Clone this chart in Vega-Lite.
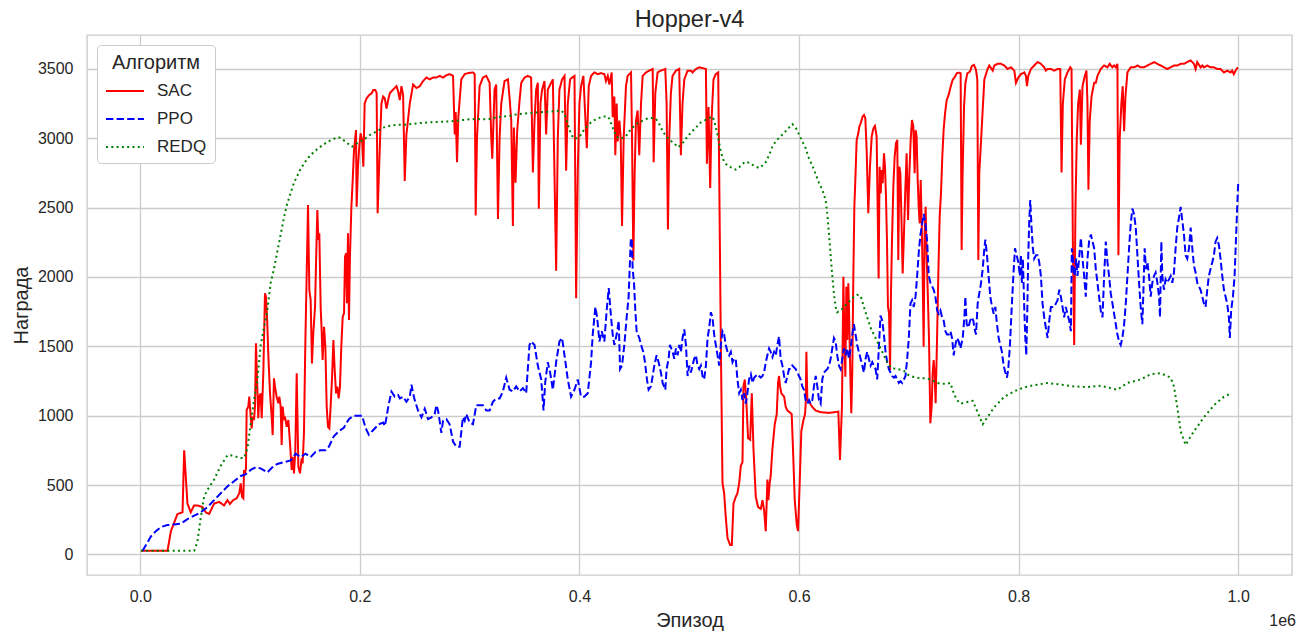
{
"$schema":"https://vega.github.io/schema/vega-lite/v6.json",
"width":1205,"height":540,
"autosize":{"type":"none"},
"padding":{"left":87,"top":35,"right":18,"bottom":64},
"background":"white",
"config":{
 "view":{"stroke":"#cccccc","strokeWidth":1.4},
 "font":"Liberation Sans",
 "axis":{"labelFont":"Liberation Sans","labelFontSize":16,"labelColor":"#262626","titleFont":"Liberation Sans","titleFontSize":20,"titleColor":"#262626","titleFontWeight":"normal","gridColor":"#cccccc","gridWidth":1.3,"domain":false,"ticks":false},
 "legend":{"orient":"top-left","offset":10,"strokeColor":"#cccccc","fillColor":"white","cornerRadius":4,"padding":8,"titleFont":"Liberation Sans","titleFontSize":20,"titleFontWeight":"normal","titleColor":"#262626","labelFont":"Liberation Sans","labelFontSize":17,"labelColor":"#262626","symbolType":"stroke","symbolSize":1444,"symbolStrokeWidth":2,"labelOffset":12,"titleAnchor":"middle","titlePadding":-2,"rowPadding":-7}
},
"title":{"text":"Hopper-v4","font":"Liberation Sans","fontSize":23.5,"fontWeight":"normal","color":"#262626","baseline":"bottom","offset":4,"dy":24},
"data":{"values":[
{"a":"SAC","x":0.6,"y":25},{"a":"SAC","x":10,"y":25},{"a":"SAC","x":20,"y":25},{"a":"SAC","x":24.8,"y":25},{"a":"SAC","x":27.9,"y":167},{"a":"SAC","x":33.9,"y":291},{"a":"SAC","x":38.5,"y":303},{"a":"SAC","x":40,"y":751},{"a":"SAC","x":43,"y":366},{"a":"SAC","x":46,"y":303},{"a":"SAC","x":49,"y":353},{"a":"SAC","x":52,"y":353},{"a":"SAC","x":56.7,"y":341},{"a":"SAC","x":59.7,"y":303},{"a":"SAC","x":62.7,"y":291},{"a":"SAC","x":67.3,"y":366},{"a":"SAC","x":71.8,"y":378},{"a":"SAC","x":76.4,"y":353},{"a":"SAC","x":79.4,"y":391},
{"a":"SAC","x":81.7,"y":363},{"a":"SAC","x":84.8,"y":392},{"a":"SAC","x":87.8,"y":404},{"a":"SAC","x":90.2,"y":440},{"a":"SAC","x":91.5,"y":512},{"a":"SAC","x":92.7,"y":416},{"a":"SAC","x":93.9,"y":404},{"a":"SAC","x":94.5,"y":608},{"a":"SAC","x":95.4,"y":584},{"a":"SAC","x":96.3,"y":620},{"a":"SAC","x":96.9,"y":1041},{"a":"SAC","x":98.4,"y":1065},{"a":"SAC","x":99.3,"y":1137},{"a":"SAC","x":100.6,"y":993},{"a":"SAC","x":101.5,"y":908},{"a":"SAC","x":102.4,"y":993},{"a":"SAC","x":103.6,"y":969},{"a":"SAC","x":104.5,"y":1065},{"a":"SAC","x":105.4,"y":1522},{"a":"SAC","x":106.6,"y":1209},{"a":"SAC","x":107.5,"y":981},{"a":"SAC","x":108.5,"y":1137},{"a":"SAC","x":109.7,"y":1161},{"a":"SAC","x":110.6,"y":981},{"a":"SAC","x":112.1,"y":1305},{"a":"SAC","x":113.6,"y":1882},{"a":"SAC","x":114.5,"y":1858},{"a":"SAC","x":115.7,"y":1666},{"a":"SAC","x":116.7,"y":1425},{"a":"SAC","x":118.2,"y":1161},{"a":"SAC","x":119.7,"y":993},{"a":"SAC","x":120.6,"y":860},{"a":"SAC","x":121.8,"y":1269},{"a":"SAC","x":122.7,"y":1209},{"a":"SAC","x":124.2,"y":1137},{"a":"SAC","x":125.8,"y":1089},{"a":"SAC","x":126.7,"y":1137},{"a":"SAC","x":127.9,"y":1065},{"a":"SAC","x":128.8,"y":788},{"a":"SAC","x":129.7,"y":1065},{"a":"SAC","x":130.9,"y":969},{"a":"SAC","x":131.8,"y":993},{"a":"SAC","x":133.4,"y":920},{"a":"SAC","x":134.9,"y":969},{"a":"SAC","x":136.4,"y":800},{"a":"SAC","x":137.9,"y":608},{"a":"SAC","x":138.8,"y":704},{"a":"SAC","x":140,"y":584},{"a":"SAC","x":141.2,"y":740},{"a":"SAC","x":142.5,"y":1305},{"a":"SAC","x":144,"y":632},{"a":"SAC","x":145.5,"y":584},{"a":"SAC","x":147,"y":692},{"a":"SAC","x":147.9,"y":656},{"a":"SAC","x":149.1,"y":873},{"a":"SAC","x":150.3,"y":1497},{"a":"SAC","x":151.6,"y":2026},{"a":"SAC","x":152.8,"y":2519},{"a":"SAC","x":154,"y":1906},{"a":"SAC","x":155.2,"y":1834},{"a":"SAC","x":156.4,"y":1377},{"a":"SAC","x":157.6,"y":1594},{"a":"SAC","x":159.2,"y":1786},{"a":"SAC","x":160.1,"y":2099},{"a":"SAC","x":161.3,"y":2483},{"a":"SAC","x":162.2,"y":2267},{"a":"SAC","x":163.1,"y":2315},{"a":"SAC","x":164.3,"y":1786},{"a":"SAC","x":165.2,"y":1618},{"a":"SAC","x":166.1,"y":1401},{"a":"SAC","x":167.4,"y":1641},{"a":"SAC","x":168.6,"y":1497},{"a":"SAC","x":169.8,"y":1065},{"a":"SAC","x":171,"y":920},{"a":"SAC","x":172.2,"y":908},{"a":"SAC","x":173.4,"y":1065},{"a":"SAC","x":174.6,"y":1257},{"a":"SAC","x":175.9,"y":1546},{"a":"SAC","x":177.1,"y":1329},{"a":"SAC","x":178.3,"y":1161},{"a":"SAC","x":179.5,"y":1209},{"a":"SAC","x":180.7,"y":1125},{"a":"SAC","x":181.9,"y":1209},{"a":"SAC","x":183.1,"y":1497},{"a":"SAC","x":184.4,"y":1714},{"a":"SAC","x":185.6,"y":1738},{"a":"SAC","x":186.5,"y":2146},{"a":"SAC","x":187.4,"y":2171},{"a":"SAC","x":188.3,"y":1810},{"a":"SAC","x":189.2,"y":2315},{"a":"SAC","x":190.1,"y":1690},{"a":"SAC","x":191,"y":2146},{"a":"SAC","x":192.3,"y":2507},{"a":"SAC","x":193.5,"y":2699},{"a":"SAC","x":194.7,"y":2916},{"a":"SAC","x":195.9,"y":3012},{"a":"SAC","x":196.5,"y":3060},{"a":"SAC","x":197.1,"y":2507},{"a":"SAC","x":198.3,"y":2795},{"a":"SAC","x":199.5,"y":2940},{"a":"SAC","x":200.7,"y":3036},{"a":"SAC","x":202,"y":2988},{"a":"SAC","x":203.2,"y":2795},{"a":"SAC","x":204.4,"y":3252},{"a":"SAC","x":206.2,"y":3289},{"a":"SAC","x":208.6,"y":3313},{"a":"SAC","x":210.8,"y":3325},{"a":"SAC","x":212.3,"y":3349},{"a":"SAC","x":214.1,"y":3349},{"a":"SAC","x":215.3,"y":3325},{"a":"SAC","x":216.2,"y":2459},{"a":"SAC","x":217.4,"y":2748},{"a":"SAC","x":218.4,"y":2988},
{"a":"SAC","x":219.7,"y":3251},{"a":"SAC","x":221.2,"y":3301},{"a":"SAC","x":222.7,"y":3289},{"a":"SAC","x":224.3,"y":3214},{"a":"SAC","x":225.8,"y":3276},{"a":"SAC","x":227.3,"y":3326},{"a":"SAC","x":230.3,"y":3351},{"a":"SAC","x":233.4,"y":3376},{"a":"SAC","x":234.9,"y":3338},{"a":"SAC","x":236.4,"y":3276},{"a":"SAC","x":237.9,"y":3376},{"a":"SAC","x":239.4,"y":3313},{"a":"SAC","x":240.9,"y":2692},{"a":"SAC","x":242.4,"y":3027},{"a":"SAC","x":245.5,"y":3251},{"a":"SAC","x":248.5,"y":3388},{"a":"SAC","x":251.5,"y":3363},{"a":"SAC","x":254.6,"y":3376},{"a":"SAC","x":257.6,"y":3413},{"a":"SAC","x":260.6,"y":3438},{"a":"SAC","x":263.7,"y":3425},{"a":"SAC","x":266.7,"y":3438},{"a":"SAC","x":269.7,"y":3438},{"a":"SAC","x":272.7,"y":3450},{"a":"SAC","x":275.8,"y":3438},{"a":"SAC","x":278.8,"y":3455},{"a":"SAC","x":281.8,"y":3463},{"a":"SAC","x":284.9,"y":3450},{"a":"SAC","x":286.4,"y":3027},{"a":"SAC","x":287.3,"y":3189},{"a":"SAC","x":288.5,"y":2828},{"a":"SAC","x":289.7,"y":3152},{"a":"SAC","x":292.4,"y":3425},{"a":"SAC","x":295.5,"y":3463},{"a":"SAC","x":298.5,"y":3470},{"a":"SAC","x":303,"y":3475},{"a":"SAC","x":304.6,"y":3463},{"a":"SAC","x":305.5,"y":2443},{"a":"SAC","x":306.7,"y":3003},{"a":"SAC","x":309.1,"y":3376},{"a":"SAC","x":312.1,"y":3438},{"a":"SAC","x":315.2,"y":3450},{"a":"SAC","x":318.2,"y":3400},{"a":"SAC","x":319.7,"y":3003},{"a":"SAC","x":320.6,"y":2853},{"a":"SAC","x":322.7,"y":3351},{"a":"SAC","x":324.2,"y":3388},{"a":"SAC","x":325.8,"y":2418},{"a":"SAC","x":327.3,"y":3003},{"a":"SAC","x":328.8,"y":3251},{"a":"SAC","x":331.8,"y":3413},{"a":"SAC","x":334.9,"y":3425},{"a":"SAC","x":336.4,"y":3289},{"a":"SAC","x":337.9,"y":3127},{"a":"SAC","x":339.4,"y":2368},{"a":"SAC","x":340.3,"y":3077},{"a":"SAC","x":341.8,"y":2679},{"a":"SAC","x":343.3,"y":3052},{"a":"SAC","x":345.5,"y":3276},{"a":"SAC","x":347,"y":3400},{"a":"SAC","x":350,"y":3438},{"a":"SAC","x":353,"y":3450},{"a":"SAC","x":356,"y":3438},{"a":"SAC","x":357.6,"y":2754},{"a":"SAC","x":359.1,"y":3127},{"a":"SAC","x":360.6,"y":3351},{"a":"SAC","x":362.1,"y":3400},{"a":"SAC","x":363,"y":2493},{"a":"SAC","x":364.5,"y":3251},{"a":"SAC","x":366,"y":3351},{"a":"SAC","x":368.2,"y":3413},{"a":"SAC","x":369.7,"y":3027},{"a":"SAC","x":371.2,"y":3351},{"a":"SAC","x":374.2,"y":3400},{"a":"SAC","x":375.8,"y":3425},{"a":"SAC","x":376.7,"y":3003},{"a":"SAC","x":378.8,"y":2045},{"a":"SAC","x":380.3,"y":3003},{"a":"SAC","x":381.8,"y":3351},{"a":"SAC","x":384.2,"y":3425},{"a":"SAC","x":386.4,"y":3450},{"a":"SAC","x":387.9,"y":2766},{"a":"SAC","x":389.4,"y":3251},{"a":"SAC","x":391.5,"y":3425},{"a":"SAC","x":393.3,"y":3438},{"a":"SAC","x":395.5,"y":3450},{"a":"SAC","x":397,"y":1846},{"a":"SAC","x":398.5,"y":2766},{"a":"SAC","x":400,"y":3251},{"a":"SAC","x":401.5,"y":3376},{"a":"SAC","x":403.6,"y":3450},{"a":"SAC","x":405.5,"y":3127},{"a":"SAC","x":406.7,"y":2928},{"a":"SAC","x":408.5,"y":3376},{"a":"SAC","x":410.6,"y":3450},{"a":"SAC","x":413.6,"y":3475},{"a":"SAC","x":416.7,"y":3463},{"a":"SAC","x":419.7,"y":3470},{"a":"SAC","x":422.7,"y":3463},{"a":"SAC","x":424.2,"y":3413},{"a":"SAC","x":425.8,"y":3450},{"a":"SAC","x":427.3,"y":3388},{"a":"SAC","x":429.4,"y":3475},{"a":"SAC","x":430.3,"y":3152},{"a":"SAC","x":431.8,"y":3301},{"a":"SAC","x":432.7,"y":2878},{"a":"SAC","x":433.9,"y":3251},{"a":"SAC","x":434.8,"y":2978},{"a":"SAC","x":436.4,"y":3127},{"a":"SAC","x":437.6,"y":3003},{"a":"SAC","x":438.8,"y":2368},{"a":"SAC","x":440.3,"y":3003},{"a":"SAC","x":442.4,"y":3376},{"a":"SAC","x":443.9,"y":3450},{"a":"SAC","x":445.5,"y":3463},{"a":"SAC","x":447,"y":3475},{"a":"SAC","x":447.9,"y":3003},{"a":"SAC","x":449.1,"y":2119},{"a":"SAC","x":450.3,"y":2754},{"a":"SAC","x":451.5,"y":3127},{"a":"SAC","x":453,"y":3201},{"a":"SAC","x":454.5,"y":2878},{"a":"SAC","x":456.1,"y":3251},{"a":"SAC","x":457.6,"y":3450},{"a":"SAC","x":460.6,"y":3475},{"a":"SAC","x":463.6,"y":3488},{"a":"SAC","x":466.7,"y":3500},{"a":"SAC","x":467.6,"y":2828},{"a":"SAC","x":469.1,"y":3326},{"a":"SAC","x":471.2,"y":3475},{"a":"SAC","x":474.2,"y":3488},{"a":"SAC","x":478.2,"y":3500},{"a":"SAC","x":479.4,"y":3251},{"a":"SAC","x":480.6,"y":2343},{"a":"SAC","x":481.8,"y":3003},{"a":"SAC","x":483.3,"y":3326},{"a":"SAC","x":484.8,"y":3450},{"a":"SAC","x":487.9,"y":3488},
{"a":"SAC","x":490.9,"y":3500},{"a":"SAC","x":492.4,"y":2878},{"a":"SAC","x":493.9,"y":3251},{"a":"SAC","x":495.5,"y":3425},{"a":"SAC","x":498.5,"y":3488},{"a":"SAC","x":501.5,"y":3488},{"a":"SAC","x":503,"y":3475},{"a":"SAC","x":506.1,"y":3500},{"a":"SAC","x":509.1,"y":3512},{"a":"SAC","x":512.1,"y":3507},{"a":"SAC","x":515.2,"y":3500},{"a":"SAC","x":516.1,"y":2816},{"a":"SAC","x":517.6,"y":3226},{"a":"SAC","x":519.1,"y":2642},{"a":"SAC","x":520.3,"y":3127},{"a":"SAC","x":522.1,"y":3425},{"a":"SAC","x":524.2,"y":3463},{"a":"SAC","x":526.4,"y":3475},{"a":"SAC","x":527.3,"y":2754},{"a":"SAC","x":528.8,"y":1510},{"a":"SAC","x":530.3,"y":515},{"a":"SAC","x":531.8,"y":440},{"a":"SAC","x":533.3,"y":266},{"a":"SAC","x":534.9,"y":117},{"a":"SAC","x":537.3,"y":67},{"a":"SAC","x":538.8,"y":67},{"a":"SAC","x":540.3,"y":366},{"a":"SAC","x":542.4,"y":415},{"a":"SAC","x":543.9,"y":440},{"a":"SAC","x":545.5,"y":515},{"a":"SAC","x":547,"y":639},{"a":"SAC","x":548.5,"y":664},{"a":"SAC","x":549.4,"y":1211},{"a":"SAC","x":550.6,"y":1261},{"a":"SAC","x":551.8,"y":1137},{"a":"SAC","x":553.6,"y":838},{"a":"SAC","x":555.5,"y":826},{"a":"SAC","x":557,"y":1162},{"a":"SAC","x":558.5,"y":764},{"a":"SAC","x":560.6,"y":415},{"a":"SAC","x":562.7,"y":341},{"a":"SAC","x":565.2,"y":328},{"a":"SAC","x":566.7,"y":391},{"a":"SAC","x":568.2,"y":316},{"a":"SAC","x":569.7,"y":167},{"a":"SAC","x":571.2,"y":540},{"a":"SAC","x":572.1,"y":391},{"a":"SAC","x":573.3,"y":515},{"a":"SAC","x":574.2,"y":565},{"a":"SAC","x":575.8,"y":764},{"a":"SAC","x":577.9,"y":938},{"a":"SAC","x":579.7,"y":1012},{"a":"SAC","x":580.9,"y":1236},{"a":"SAC","x":581.8,"y":1286},{"a":"SAC","x":582.7,"y":1211},{"a":"SAC","x":583.9,"y":1162},{"a":"SAC","x":586.4,"y":1137},{"a":"SAC","x":587.9,"y":1062},{"a":"SAC","x":589.4,"y":1037},{"a":"SAC","x":591.5,"y":1025},{"a":"SAC","x":593.3,"y":1012},{"a":"SAC","x":594.5,"y":764},{"a":"SAC","x":596.1,"y":391},{"a":"SAC","x":597.9,"y":216},{"a":"SAC","x":599.1,"y":167},{"a":"SAC","x":600.6,"y":515},{"a":"SAC","x":602.1,"y":888},{"a":"SAC","x":603.9,"y":963},{"a":"SAC","x":605.5,"y":1012},{"a":"SAC","x":606.1,"y":1087},{"a":"SAC","x":606.7,"y":1460},{"a":"SAC","x":607.6,"y":1112},{"a":"SAC","x":609.1,"y":1100},{"a":"SAC","x":612.1,"y":1062},{"a":"SAC","x":615.2,"y":1037},{"a":"SAC","x":619.7,"y":1025},{"a":"SAC","x":627.3,"y":1020},{"a":"SAC","x":635.8,"y":1029},{"a":"SAC","x":636.7,"y":824},{"a":"SAC","x":637.3,"y":680},{"a":"SAC","x":638.2,"y":873},{"a":"SAC","x":639.1,"y":1065},{"a":"SAC","x":640.4,"y":2002},{"a":"SAC","x":641.3,"y":1546},{"a":"SAC","x":642.2,"y":1281},{"a":"SAC","x":643.1,"y":1930},{"a":"SAC","x":644,"y":1546},{"a":"SAC","x":644.9,"y":1954},{"a":"SAC","x":645.8,"y":1666},{"a":"SAC","x":646.7,"y":1305},{"a":"SAC","x":647.6,"y":1017},{"a":"SAC","x":648.5,"y":1305},{"a":"SAC","x":649.5,"y":2026},{"a":"SAC","x":650.4,"y":2507},{"a":"SAC","x":651.3,"y":2699},{"a":"SAC","x":652.5,"y":2988},{"a":"SAC","x":654,"y":3036},{"a":"SAC","x":654.9,"y":3084},{"a":"SAC","x":656.1,"y":3108},{"a":"SAC","x":657.9,"y":3156},{"a":"SAC","x":659.2,"y":3168},{"a":"SAC","x":660.4,"y":3144},{"a":"SAC","x":661.6,"y":2916},{"a":"SAC","x":663.1,"y":2459},{"a":"SAC","x":664.6,"y":2795},{"a":"SAC","x":666.2,"y":3012},{"a":"SAC","x":667.7,"y":3072},{"a":"SAC","x":669.2,"y":3089},{"a":"SAC","x":670.7,"y":3012},{"a":"SAC","x":671.6,"y":2507},{"a":"SAC","x":672.5,"y":1990},{"a":"SAC","x":673.4,"y":2795},{"a":"SAC","x":674.4,"y":2603},{"a":"SAC","x":675.3,"y":2772},{"a":"SAC","x":676.2,"y":2676},{"a":"SAC","x":677.4,"y":2892},{"a":"SAC","x":678.3,"y":2795},{"a":"SAC","x":679.2,"y":2579},{"a":"SAC","x":680.1,"y":2267},{"a":"SAC","x":681,"y":1786},{"a":"SAC","x":682,"y":1738},{"a":"SAC","x":682.9,"y":1329},{"a":"SAC","x":683.8,"y":1906},{"a":"SAC","x":684.7,"y":2267},{"a":"SAC","x":685.9,"y":2651},{"a":"SAC","x":687.1,"y":2867},{"a":"SAC","x":688.3,"y":2964},{"a":"SAC","x":689.5,"y":2988},{"a":"SAC","x":690.4,"y":2122},{"a":"SAC","x":691.4,"y":2795},{"a":"SAC","x":692.3,"y":2748},{"a":"SAC","x":693.2,"y":2459},{"a":"SAC","x":694.4,"y":2026},{"a":"SAC","x":695.6,"y":2315},{"a":"SAC","x":696.8,"y":2627},{"a":"SAC","x":698,"y":2892},{"a":"SAC","x":699.3,"y":2411},{"a":"SAC","x":700.5,"y":2748},{"a":"SAC","x":701.7,"y":2988},{"a":"SAC","x":702.9,"y":3132},{"a":"SAC","x":704.1,"y":3084},{"a":"SAC","x":705.3,"y":2748},{"a":"SAC","x":706.2,"y":3060},{"a":"SAC","x":707.1,"y":3012},{"a":"SAC","x":708.1,"y":2699},{"a":"SAC","x":709,"y":2507},{"a":"SAC","x":709.9,"y":2387},{"a":"SAC","x":710.8,"y":2699},{"a":"SAC","x":711.7,"y":2411},{"a":"SAC","x":712.6,"y":2026},{"a":"SAC","x":713.5,"y":1497},{"a":"SAC","x":714.4,"y":2315},{"a":"SAC","x":715.3,"y":2507},{"a":"SAC","x":716.3,"y":2146},{"a":"SAC","x":717.2,"y":1906},{"a":"SAC","x":718.4,"y":1546},{"a":"SAC","x":719.6,"y":945},{"a":"SAC","x":720.8,"y":1065},{"a":"SAC","x":721.7,"y":1305},{"a":"SAC","x":722.6,"y":1401},{"a":"SAC","x":723.5,"y":1305},{"a":"SAC","x":724.4,"y":1089},{"a":"SAC","x":725.7,"y":1546},{"a":"SAC","x":726.9,"y":2026},{"a":"SAC","x":728.1,"y":2435},{"a":"SAC","x":729.3,"y":2603},{"a":"SAC","x":730.5,"y":2867},{"a":"SAC","x":731.7,"y":3060},{"a":"SAC","x":733,"y":3180},{"a":"SAC","x":734.5,"y":3276},{"a":"SAC","x":736.3,"y":3313},{"a":"SAC","x":738.1,"y":3372},{"a":"SAC","x":739.9,"y":3421},{"a":"SAC","x":742.1,"y":3445},{"a":"SAC","x":743.6,"y":3469},{"a":"SAC","x":746,"y":3473},{"a":"SAC","x":747.2,"y":3469},{"a":"SAC","x":748.1,"y":2195},{"a":"SAC","x":749,"y":2748},{"a":"SAC","x":750.3,"y":3228},{"a":"SAC","x":751.5,"y":3397},{"a":"SAC","x":753.3,"y":3469},{"a":"SAC","x":755.7,"y":3481},{"a":"SAC","x":757.5,"y":3522},{"a":"SAC","x":759.4,"y":3529},{"a":"SAC","x":761.2,"y":3493},{"a":"SAC","x":762.4,"y":3421},{"a":"SAC","x":763.3,"y":2122},{"a":"SAC","x":764.2,"y":2748},
{"a":"SAC","x":767.6,"y":3251},{"a":"SAC","x":768.8,"y":3425},{"a":"SAC","x":771.8,"y":3500},{"a":"SAC","x":773.3,"y":3525},{"a":"SAC","x":776.4,"y":3488},{"a":"SAC","x":777.9,"y":3525},{"a":"SAC","x":780.9,"y":3537},{"a":"SAC","x":783.9,"y":3537},{"a":"SAC","x":787,"y":3525},{"a":"SAC","x":790,"y":3500},{"a":"SAC","x":793,"y":3512},{"a":"SAC","x":796.1,"y":3488},{"a":"SAC","x":797.6,"y":3400},{"a":"SAC","x":799.7,"y":3438},{"a":"SAC","x":802.1,"y":3463},{"a":"SAC","x":805.2,"y":3475},{"a":"SAC","x":806.7,"y":3450},{"a":"SAC","x":807.6,"y":3376},{"a":"SAC","x":808.8,"y":3450},{"a":"SAC","x":811.2,"y":3500},{"a":"SAC","x":814.2,"y":3525},{"a":"SAC","x":817.3,"y":3550},{"a":"SAC","x":820.3,"y":3537},{"a":"SAC","x":823.3,"y":3512},{"a":"SAC","x":824.8,"y":3488},{"a":"SAC","x":826.4,"y":3500},{"a":"SAC","x":829.4,"y":3500},{"a":"SAC","x":832.4,"y":3488},{"a":"SAC","x":835.5,"y":3500},{"a":"SAC","x":837.9,"y":3500},{"a":"SAC","x":839.1,"y":2754},{"a":"SAC","x":840.3,"y":3251},{"a":"SAC","x":842.1,"y":3425},{"a":"SAC","x":844.5,"y":3475},{"a":"SAC","x":847,"y":3512},{"a":"SAC","x":848.2,"y":3500},{"a":"SAC","x":849.4,"y":2256},{"a":"SAC","x":850.6,"y":1510},{"a":"SAC","x":851.8,"y":2505},{"a":"SAC","x":853,"y":3003},{"a":"SAC","x":854.2,"y":3251},{"a":"SAC","x":855.8,"y":3351},{"a":"SAC","x":856.7,"y":2953},{"a":"SAC","x":858.2,"y":3376},{"a":"SAC","x":860.3,"y":3450},{"a":"SAC","x":861.8,"y":3488},{"a":"SAC","x":862.7,"y":3251},{"a":"SAC","x":863.6,"y":2629},{"a":"SAC","x":864.8,"y":3127},{"a":"SAC","x":866.4,"y":3301},{"a":"SAC","x":867.6,"y":3351},{"a":"SAC","x":868.8,"y":3400},{"a":"SAC","x":870.3,"y":3400},{"a":"SAC","x":871.8,"y":3450},{"a":"SAC","x":874.8,"y":3500},{"a":"SAC","x":877.9,"y":3525},{"a":"SAC","x":880.9,"y":3512},{"a":"SAC","x":883,"y":3537},{"a":"SAC","x":885.4,"y":3512},{"a":"SAC","x":887,"y":3525},{"a":"SAC","x":888.5,"y":3512},{"a":"SAC","x":890,"y":3537},{"a":"SAC","x":890.9,"y":2157},{"a":"SAC","x":892.1,"y":3003},{"a":"SAC","x":893.6,"y":3251},{"a":"SAC","x":894.8,"y":3376},{"a":"SAC","x":896.1,"y":3052},{"a":"SAC","x":897.3,"y":3301},{"a":"SAC","x":899.1,"y":3475},{"a":"SAC","x":902.1,"y":3512},{"a":"SAC","x":905.1,"y":3512},{"a":"SAC","x":908.2,"y":3525},{"a":"SAC","x":911.2,"y":3512},{"a":"SAC","x":914.2,"y":3512},{"a":"SAC","x":917.3,"y":3525},{"a":"SAC","x":920.3,"y":3537},{"a":"SAC","x":923.3,"y":3550},{"a":"SAC","x":926.4,"y":3537},{"a":"SAC","x":929.4,"y":3525},{"a":"SAC","x":932.4,"y":3512},{"a":"SAC","x":935.4,"y":3500},{"a":"SAC","x":938.5,"y":3512},{"a":"SAC","x":941.5,"y":3525},{"a":"SAC","x":944.5,"y":3525},{"a":"SAC","x":947.6,"y":3537},{"a":"SAC","x":950.6,"y":3537},{"a":"SAC","x":953.6,"y":3550},{"a":"SAC","x":956.7,"y":3562},{"a":"SAC","x":959.7,"y":3537},{"a":"SAC","x":961.2,"y":3500},{"a":"SAC","x":962.7,"y":3550},{"a":"SAC","x":965.7,"y":3512},{"a":"SAC","x":967.3,"y":3525},{"a":"SAC","x":968.8,"y":3512},{"a":"SAC","x":971.8,"y":3525},{"a":"SAC","x":974.8,"y":3512},{"a":"SAC","x":977.9,"y":3512},{"a":"SAC","x":980.9,"y":3500},{"a":"SAC","x":983.9,"y":3500},{"a":"SAC","x":987,"y":3475},{"a":"SAC","x":990,"y":3488},{"a":"SAC","x":993,"y":3475},{"a":"SAC","x":994.5,"y":3488},{"a":"SAC","x":996,"y":3463},{"a":"SAC","x":997.6,"y":3488},{"a":"SAC","x":999.7,"y":3512},
{"a":"PPO","x":2.1,"y":25},{"a":"PPO","x":5.2,"y":67},{"a":"PPO","x":9.7,"y":129},{"a":"PPO","x":14.2,"y":167},{"a":"PPO","x":18.8,"y":197},{"a":"PPO","x":24.8,"y":211},{"a":"PPO","x":30.9,"y":216},{"a":"PPO","x":37,"y":221},{"a":"PPO","x":43,"y":254},{"a":"PPO","x":49.1,"y":279},{"a":"PPO","x":55.1,"y":303},{"a":"PPO","x":61.2,"y":341},{"a":"PPO","x":67.3,"y":391},{"a":"PPO","x":73.3,"y":440},{"a":"PPO","x":79.4,"y":490},{"a":"PPO","x":85.4,"y":527},{"a":"PPO","x":91.5,"y":565},{"a":"PPO","x":96,"y":577},{"a":"PPO","x":100.6,"y":609},{"a":"PPO","x":105.1,"y":627},{"a":"PPO","x":109.7,"y":620},{"a":"PPO","x":115.7,"y":590},{"a":"PPO","x":120.3,"y":627},{"a":"PPO","x":124.8,"y":652},{"a":"PPO","x":130.9,"y":664},{"a":"PPO","x":137,"y":677},{"a":"PPO","x":141.5,"y":726},{"a":"PPO","x":146,"y":701},{"a":"PPO","x":150.6,"y":726},{"a":"PPO","x":155.1,"y":701},{"a":"PPO","x":159.7,"y":739},{"a":"PPO","x":164.2,"y":751},{"a":"PPO","x":168.8,"y":751},{"a":"PPO","x":171.8,"y":776},{"a":"PPO","x":176.3,"y":851},{"a":"PPO","x":180.9,"y":888},{"a":"PPO","x":185.4,"y":913},{"a":"PPO","x":190,"y":975},{"a":"PPO","x":194.5,"y":1000},{"a":"PPO","x":199.1,"y":1000},{"a":"PPO","x":202.1,"y":1000},{"a":"PPO","x":205.1,"y":913},{"a":"PPO","x":208.2,"y":863},{"a":"PPO","x":211.2,"y":888},{"a":"PPO","x":214.2,"y":913},{"a":"PPO","x":217.3,"y":938},
{"a":"PPO","x":221.2,"y":950},{"a":"PPO","x":222.7,"y":925},{"a":"PPO","x":224.3,"y":988},{"a":"PPO","x":225.8,"y":1062},{"a":"PPO","x":228.8,"y":1174},{"a":"PPO","x":231.8,"y":1137},{"a":"PPO","x":234.9,"y":1149},{"a":"PPO","x":236.4,"y":1124},{"a":"PPO","x":239.4,"y":1137},{"a":"PPO","x":242.4,"y":1100},{"a":"PPO","x":245.5,"y":1137},{"a":"PPO","x":247,"y":1224},{"a":"PPO","x":248.5,"y":1162},{"a":"PPO","x":250,"y":1112},{"a":"PPO","x":253,"y":1037},{"a":"PPO","x":256.1,"y":988},{"a":"PPO","x":259.1,"y":1050},{"a":"PPO","x":262.1,"y":975},{"a":"PPO","x":265.2,"y":988},{"a":"PPO","x":268.2,"y":1012},{"a":"PPO","x":269.7,"y":1075},{"a":"PPO","x":271.2,"y":1037},{"a":"PPO","x":272.7,"y":963},{"a":"PPO","x":274.2,"y":876},{"a":"PPO","x":275.8,"y":963},{"a":"PPO","x":278.8,"y":975},{"a":"PPO","x":281.8,"y":938},{"a":"PPO","x":284.9,"y":813},{"a":"PPO","x":287.9,"y":776},{"a":"PPO","x":290.9,"y":776},{"a":"PPO","x":293.9,"y":988},{"a":"PPO","x":295.5,"y":963},{"a":"PPO","x":297,"y":1012},{"a":"PPO","x":300,"y":950},{"a":"PPO","x":303,"y":938},{"a":"PPO","x":306.1,"y":1075},{"a":"PPO","x":309.1,"y":1075},{"a":"PPO","x":312.1,"y":1075},{"a":"PPO","x":315.2,"y":1037},{"a":"PPO","x":318.2,"y":1037},{"a":"PPO","x":321.2,"y":1100},{"a":"PPO","x":324.2,"y":1124},{"a":"PPO","x":327.3,"y":1124},{"a":"PPO","x":330.3,"y":1174},{"a":"PPO","x":333.3,"y":1274},{"a":"PPO","x":336.4,"y":1187},{"a":"PPO","x":339.4,"y":1174},{"a":"PPO","x":342.4,"y":1211},{"a":"PPO","x":345.5,"y":1174},{"a":"PPO","x":348.5,"y":1199},{"a":"PPO","x":351.5,"y":1162},{"a":"PPO","x":354.5,"y":1510},{"a":"PPO","x":356.1,"y":1535},{"a":"PPO","x":357.6,"y":1522},{"a":"PPO","x":359.1,"y":1510},{"a":"PPO","x":362.1,"y":1361},{"a":"PPO","x":365.2,"y":1261},{"a":"PPO","x":367.3,"y":1037},{"a":"PPO","x":368.8,"y":1236},{"a":"PPO","x":371.2,"y":1386},{"a":"PPO","x":373.3,"y":1311},{"a":"PPO","x":375.8,"y":1187},{"a":"PPO","x":378.8,"y":1386},{"a":"PPO","x":381.8,"y":1535},{"a":"PPO","x":384.2,"y":1560},{"a":"PPO","x":386.4,"y":1435},{"a":"PPO","x":389.4,"y":1261},{"a":"PPO","x":392.4,"y":1137},{"a":"PPO","x":395.5,"y":1187},{"a":"PPO","x":398.5,"y":1261},{"a":"PPO","x":401.5,"y":1137},{"a":"PPO","x":404.5,"y":1137},{"a":"PPO","x":407.6,"y":1162},{"a":"PPO","x":410.6,"y":1386},{"a":"PPO","x":412.1,"y":1585},{"a":"PPO","x":414.5,"y":1784},{"a":"PPO","x":416.1,"y":1709},{"a":"PPO","x":418.2,"y":1535},{"a":"PPO","x":420.3,"y":1609},{"a":"PPO","x":422.7,"y":1535},{"a":"PPO","x":424.8,"y":1759},{"a":"PPO","x":426.7,"y":1920},{"a":"PPO","x":428.8,"y":1709},{"a":"PPO","x":430.3,"y":1585},{"a":"PPO","x":431.8,"y":1510},{"a":"PPO","x":433.9,"y":1585},{"a":"PPO","x":435.8,"y":1684},{"a":"PPO","x":437,"y":1336},{"a":"PPO","x":438.8,"y":1361},{"a":"PPO","x":440.9,"y":1510},{"a":"PPO","x":443,"y":1709},{"a":"PPO","x":444.8,"y":1858},{"a":"PPO","x":446.7,"y":2256},{"a":"PPO","x":447.6,"y":2281},{"a":"PPO","x":448.5,"y":2057},{"a":"PPO","x":449.7,"y":1958},{"a":"PPO","x":450.9,"y":1759},{"a":"PPO","x":452.1,"y":1609},{"a":"PPO","x":454.5,"y":1560},{"a":"PPO","x":456.1,"y":1510},{"a":"PPO","x":458.2,"y":1460},{"a":"PPO","x":459.7,"y":1386},{"a":"PPO","x":461.5,"y":1261},{"a":"PPO","x":463,"y":1187},{"a":"PPO","x":465.1,"y":1211},{"a":"PPO","x":466.7,"y":1286},{"a":"PPO","x":468.2,"y":1361},{"a":"PPO","x":470.3,"y":1435},{"a":"PPO","x":472.1,"y":1386},{"a":"PPO","x":474.2,"y":1311},{"a":"PPO","x":475.8,"y":1236},{"a":"PPO","x":478.2,"y":1187},{"a":"PPO","x":479.4,"y":1336},{"a":"PPO","x":481.2,"y":1410},{"a":"PPO","x":482.4,"y":1510},
{"a":"PPO","x":484.9,"y":1460},{"a":"PPO","x":486.4,"y":1410},{"a":"PPO","x":487.9,"y":1485},{"a":"PPO","x":489.4,"y":1435},{"a":"PPO","x":490.9,"y":1510},{"a":"PPO","x":492.4,"y":1460},{"a":"PPO","x":493.9,"y":1560},{"a":"PPO","x":495.5,"y":1622},{"a":"PPO","x":497,"y":1510},{"a":"PPO","x":498.5,"y":1286},{"a":"PPO","x":500,"y":1361},{"a":"PPO","x":501.5,"y":1311},{"a":"PPO","x":503,"y":1361},{"a":"PPO","x":504.5,"y":1410},{"a":"PPO","x":506.1,"y":1435},{"a":"PPO","x":507.6,"y":1361},{"a":"PPO","x":509.1,"y":1336},{"a":"PPO","x":510.6,"y":1361},{"a":"PPO","x":512.1,"y":1286},{"a":"PPO","x":513.6,"y":1261},{"a":"PPO","x":515.2,"y":1361},{"a":"PPO","x":516.7,"y":1560},{"a":"PPO","x":518.2,"y":1634},{"a":"PPO","x":519.7,"y":1746},{"a":"PPO","x":521.2,"y":1709},{"a":"PPO","x":522.7,"y":1585},{"a":"PPO","x":524.2,"y":1510},{"a":"PPO","x":525.8,"y":1435},{"a":"PPO","x":527.3,"y":1361},{"a":"PPO","x":528.8,"y":1510},{"a":"PPO","x":530.3,"y":1609},{"a":"PPO","x":531.8,"y":1585},{"a":"PPO","x":533.3,"y":1510},{"a":"PPO","x":534.9,"y":1460},{"a":"PPO","x":536.4,"y":1435},{"a":"PPO","x":537.9,"y":1460},{"a":"PPO","x":539.4,"y":1386},{"a":"PPO","x":540.9,"y":1410},{"a":"PPO","x":542.4,"y":1410},{"a":"PPO","x":543.9,"y":1261},{"a":"PPO","x":545.5,"y":1162},{"a":"PPO","x":547,"y":1187},{"a":"PPO","x":548.5,"y":1112},{"a":"PPO","x":550,"y":1162},{"a":"PPO","x":551.5,"y":1087},{"a":"PPO","x":553,"y":1162},{"a":"PPO","x":554.5,"y":1261},{"a":"PPO","x":556.1,"y":1299},{"a":"PPO","x":557.6,"y":1236},{"a":"PPO","x":559.1,"y":1274},{"a":"PPO","x":560.6,"y":1286},{"a":"PPO","x":562.1,"y":1299},{"a":"PPO","x":563.6,"y":1286},{"a":"PPO","x":565.2,"y":1274},{"a":"PPO","x":566.7,"y":1286},{"a":"PPO","x":568.2,"y":1311},{"a":"PPO","x":569.7,"y":1386},{"a":"PPO","x":571.2,"y":1435},{"a":"PPO","x":572.7,"y":1485},{"a":"PPO","x":574.2,"y":1460},{"a":"PPO","x":575.8,"y":1423},{"a":"PPO","x":577.3,"y":1460},{"a":"PPO","x":578.8,"y":1435},{"a":"PPO","x":580.3,"y":1510},{"a":"PPO","x":581.8,"y":1572},{"a":"PPO","x":583.3,"y":1410},{"a":"PPO","x":584.9,"y":1361},{"a":"PPO","x":586.4,"y":1286},{"a":"PPO","x":587.9,"y":1236},{"a":"PPO","x":589.4,"y":1286},{"a":"PPO","x":590.9,"y":1336},{"a":"PPO","x":592.4,"y":1336},{"a":"PPO","x":593.9,"y":1361},{"a":"PPO","x":595.5,"y":1348},{"a":"PPO","x":597,"y":1336},{"a":"PPO","x":598.5,"y":1311},{"a":"PPO","x":600,"y":1286},{"a":"PPO","x":601.5,"y":1261},{"a":"PPO","x":603,"y":1211},{"a":"PPO","x":604.5,"y":1187},{"a":"PPO","x":606.1,"y":1112},{"a":"PPO","x":607.6,"y":1087},{"a":"PPO","x":609.1,"y":1112},{"a":"PPO","x":610.6,"y":1087},{"a":"PPO","x":612.1,"y":1112},{"a":"PPO","x":613.6,"y":1211},{"a":"PPO","x":615.2,"y":1286},{"a":"PPO","x":616.7,"y":1211},{"a":"PPO","x":618.2,"y":1112},{"a":"PPO","x":619.7,"y":1087},{"a":"PPO","x":621.2,"y":1261},{"a":"PPO","x":622.7,"y":1311},{"a":"PPO","x":624.2,"y":1323},{"a":"PPO","x":625.8,"y":1336},{"a":"PPO","x":627.3,"y":1361},{"a":"PPO","x":628.8,"y":1410},{"a":"PPO","x":630.3,"y":1485},{"a":"PPO","x":631.8,"y":1560},{"a":"PPO","x":633.3,"y":1535},{"a":"PPO","x":634.8,"y":1435},{"a":"PPO","x":636.4,"y":1361},{"a":"PPO","x":637.9,"y":1336},{"a":"PPO","x":639.4,"y":1410},{"a":"PPO","x":640.9,"y":1485},{"a":"PPO","x":642.4,"y":1435},{"a":"PPO","x":643.9,"y":1485},{"a":"PPO","x":645.5,"y":1410},{"a":"PPO","x":647,"y":1485},{"a":"PPO","x":648.5,"y":1585},{"a":"PPO","x":650,"y":1659},{"a":"PPO","x":651.5,"y":1585},{"a":"PPO","x":653,"y":1510},{"a":"PPO","x":654.5,"y":1460},{"a":"PPO","x":656.1,"y":1410},{"a":"PPO","x":657.6,"y":1361},{"a":"PPO","x":659.1,"y":1311},{"a":"PPO","x":660.6,"y":1410},{"a":"PPO","x":662.1,"y":1460},{"a":"PPO","x":663.6,"y":1410},{"a":"PPO","x":665.2,"y":1361},{"a":"PPO","x":666.7,"y":1386},{"a":"PPO","x":668.2,"y":1361},{"a":"PPO","x":669.7,"y":1336},{"a":"PPO","x":671.2,"y":1261},{"a":"PPO","x":672.7,"y":1485},{"a":"PPO","x":674.2,"y":1722},{"a":"PPO","x":675.8,"y":1684},{"a":"PPO","x":677.3,"y":1585},{"a":"PPO","x":678.8,"y":1460},{"a":"PPO","x":680.3,"y":1386},{"a":"PPO","x":681.8,"y":1336},{"a":"PPO","x":683.3,"y":1311},{"a":"PPO","x":684.8,"y":1286},{"a":"PPO","x":686.4,"y":1274},{"a":"PPO","x":687.9,"y":1286},{"a":"PPO","x":689.4,"y":1261},{"a":"PPO","x":690.9,"y":1236},{"a":"PPO","x":692.4,"y":1249},{"a":"PPO","x":693.9,"y":1236},{"a":"PPO","x":695.5,"y":1261},{"a":"PPO","x":697,"y":1286},{"a":"PPO","x":698.5,"y":1410},{"a":"PPO","x":700,"y":1560},{"a":"PPO","x":701.5,"y":1808},{"a":"PPO","x":703,"y":1833},{"a":"PPO","x":704.5,"y":1784},{"a":"PPO","x":706.1,"y":1858},{"a":"PPO","x":707.6,"y":2007},{"a":"PPO","x":709.1,"y":2182},{"a":"PPO","x":710.6,"y":2306},{"a":"PPO","x":712.1,"y":2381},{"a":"PPO","x":713.6,"y":2455},{"a":"PPO","x":715.2,"y":2381},{"a":"PPO","x":716.7,"y":2256},{"a":"PPO","x":718.2,"y":2007},{"a":"PPO","x":719.7,"y":1958},{"a":"PPO","x":721.2,"y":1933},{"a":"PPO","x":722.7,"y":1908},{"a":"PPO","x":724.2,"y":1858},{"a":"PPO","x":725.8,"y":1759},{"a":"PPO","x":727.3,"y":1734},{"a":"PPO","x":728.8,"y":1759},{"a":"PPO","x":730.3,"y":1709},{"a":"PPO","x":731.8,"y":1684},{"a":"PPO","x":733.3,"y":1609},{"a":"PPO","x":734.8,"y":1585},{"a":"PPO","x":736.4,"y":1585},{"a":"PPO","x":737.9,"y":1609},{"a":"PPO","x":739.4,"y":1560},{"a":"PPO","x":740.9,"y":1435},{"a":"PPO","x":742.4,"y":1510},{"a":"PPO","x":743.9,"y":1560},{"a":"PPO","x":745.5,"y":1535},{"a":"PPO","x":747,"y":1485},
{"a":"PPO","x":749.1,"y":1560},{"a":"PPO","x":750.6,"y":1709},{"a":"PPO","x":751.5,"y":1858},{"a":"PPO","x":752.7,"y":1659},{"a":"PPO","x":754.2,"y":1634},{"a":"PPO","x":755.8,"y":1684},{"a":"PPO","x":757.3,"y":1709},{"a":"PPO","x":758.8,"y":1684},{"a":"PPO","x":759.7,"y":1634},{"a":"PPO","x":761.2,"y":1585},{"a":"PPO","x":762.7,"y":1808},{"a":"PPO","x":764.2,"y":1883},{"a":"PPO","x":765.8,"y":1958},{"a":"PPO","x":767.3,"y":2057},{"a":"PPO","x":768.8,"y":2207},{"a":"PPO","x":769.7,"y":2269},{"a":"PPO","x":771.2,"y":2157},{"a":"PPO","x":772.7,"y":2007},{"a":"PPO","x":774.2,"y":1858},{"a":"PPO","x":775.8,"y":1784},{"a":"PPO","x":777.3,"y":1734},{"a":"PPO","x":778.8,"y":1784},{"a":"PPO","x":780.3,"y":1659},{"a":"PPO","x":781.8,"y":1560},{"a":"PPO","x":783.3,"y":1510},{"a":"PPO","x":784.8,"y":1460},{"a":"PPO","x":786.4,"y":1361},{"a":"PPO","x":787.9,"y":1311},{"a":"PPO","x":789.4,"y":1274},{"a":"PPO","x":790.6,"y":1336},{"a":"PPO","x":792.1,"y":1510},{"a":"PPO","x":793.6,"y":1759},{"a":"PPO","x":795.2,"y":2007},{"a":"PPO","x":796.7,"y":2207},{"a":"PPO","x":798.2,"y":2157},{"a":"PPO","x":799.7,"y":2107},{"a":"PPO","x":801.2,"y":2007},{"a":"PPO","x":802.1,"y":2157},{"a":"PPO","x":803,"y":1958},{"a":"PPO","x":803.9,"y":2132},{"a":"PPO","x":805.2,"y":1759},{"a":"PPO","x":806.1,"y":1560},{"a":"PPO","x":807,"y":1435},{"a":"PPO","x":807.9,"y":1759},{"a":"PPO","x":808.8,"y":2157},{"a":"PPO","x":809.7,"y":2405},{"a":"PPO","x":810.6,"y":2555},{"a":"PPO","x":811.8,"y":2356},{"a":"PPO","x":813,"y":2207},{"a":"PPO","x":814.2,"y":2132},{"a":"PPO","x":815.8,"y":2157},{"a":"PPO","x":817.3,"y":2157},{"a":"PPO","x":818.8,"y":2107},{"a":"PPO","x":820.3,"y":2007},{"a":"PPO","x":821.8,"y":1808},{"a":"PPO","x":823.3,"y":1709},{"a":"PPO","x":824.8,"y":1634},{"a":"PPO","x":826.4,"y":1560},{"a":"PPO","x":827.9,"y":1684},{"a":"PPO","x":829.4,"y":1784},{"a":"PPO","x":830.9,"y":1784},{"a":"PPO","x":832.4,"y":1784},{"a":"PPO","x":833.9,"y":1808},{"a":"PPO","x":835.5,"y":1833},{"a":"PPO","x":837,"y":1908},{"a":"PPO","x":838.5,"y":1858},{"a":"PPO","x":840,"y":1784},{"a":"PPO","x":841.5,"y":1709},{"a":"PPO","x":843,"y":1784},{"a":"PPO","x":844.5,"y":1734},{"a":"PPO","x":846.1,"y":1684},{"a":"PPO","x":847.6,"y":1609},{"a":"PPO","x":848.5,"y":2207},{"a":"PPO","x":849.4,"y":2132},{"a":"PPO","x":850.6,"y":2007},{"a":"PPO","x":851.5,"y":2032},{"a":"PPO","x":852.4,"y":2132},{"a":"PPO","x":853.6,"y":2007},{"a":"PPO","x":855.1,"y":2132},{"a":"PPO","x":856.7,"y":2281},{"a":"PPO","x":858.2,"y":2132},{"a":"PPO","x":859.7,"y":2007},{"a":"PPO","x":861.2,"y":1858},{"a":"PPO","x":862.7,"y":2132},{"a":"PPO","x":864.2,"y":2256},{"a":"PPO","x":865.8,"y":2306},{"a":"PPO","x":867.3,"y":2256},{"a":"PPO","x":868.8,"y":2207},{"a":"PPO","x":870.3,"y":2057},{"a":"PPO","x":871.8,"y":1958},{"a":"PPO","x":873.3,"y":1858},{"a":"PPO","x":874.8,"y":1759},{"a":"PPO","x":876.4,"y":1709},{"a":"PPO","x":877.9,"y":2007},{"a":"PPO","x":879.4,"y":2256},{"a":"PPO","x":880.9,"y":2107},{"a":"PPO","x":882.4,"y":2007},{"a":"PPO","x":883.9,"y":1883},{"a":"PPO","x":885.5,"y":1808},{"a":"PPO","x":887,"y":1734},{"a":"PPO","x":888.5,"y":1659},{"a":"PPO","x":890,"y":1585},{"a":"PPO","x":891.5,"y":1535},{"a":"PPO","x":893,"y":1510},{"a":"PPO","x":894.5,"y":1560},{"a":"PPO","x":896.1,"y":1659},{"a":"PPO","x":897.6,"y":1808},{"a":"PPO","x":899.1,"y":2007},{"a":"PPO","x":900.6,"y":2207},{"a":"PPO","x":902.1,"y":2381},{"a":"PPO","x":903.6,"y":2493},{"a":"PPO","x":905.1,"y":2455},{"a":"PPO","x":906.7,"y":2356},{"a":"PPO","x":908.2,"y":2157},{"a":"PPO","x":909.7,"y":1958},{"a":"PPO","x":911.2,"y":1784},{"a":"PPO","x":912.7,"y":1659},{"a":"PPO","x":913.6,"y":1883},{"a":"PPO","x":914.8,"y":2207},{"a":"PPO","x":916,"y":2057},{"a":"PPO","x":917.3,"y":2107},{"a":"PPO","x":918.8,"y":2007},{"a":"PPO","x":920.3,"y":1858},{"a":"PPO","x":921.8,"y":1958},{"a":"PPO","x":923.3,"y":2007},{"a":"PPO","x":924.8,"y":2032},{"a":"PPO","x":926.4,"y":1958},{"a":"PPO","x":927.9,"y":1858},{"a":"PPO","x":928.8,"y":1709},{"a":"PPO","x":930,"y":2256},{"a":"PPO","x":930.9,"y":2007},{"a":"PPO","x":932.4,"y":1908},{"a":"PPO","x":933.9,"y":1983},{"a":"PPO","x":935.4,"y":1958},{"a":"PPO","x":937,"y":1983},{"a":"PPO","x":938.5,"y":2007},{"a":"PPO","x":940,"y":1958},{"a":"PPO","x":941.5,"y":2032},{"a":"PPO","x":943,"y":2207},{"a":"PPO","x":944.5,"y":2356},{"a":"PPO","x":946.1,"y":2430},{"a":"PPO","x":947.6,"y":2505},{"a":"PPO","x":949.1,"y":2405},{"a":"PPO","x":950.6,"y":2306},{"a":"PPO","x":952.1,"y":2157},{"a":"PPO","x":953.6,"y":2132},{"a":"PPO","x":955.2,"y":2207},{"a":"PPO","x":956.7,"y":2356},{"a":"PPO","x":958.2,"y":2207},{"a":"PPO","x":959.7,"y":2082},{"a":"PPO","x":961.2,"y":2032},{"a":"PPO","x":962.7,"y":1958},{"a":"PPO","x":964.2,"y":1933},{"a":"PPO","x":965.7,"y":1908},{"a":"PPO","x":967.3,"y":1858},{"a":"PPO","x":968.8,"y":1808},{"a":"PPO","x":970.3,"y":1784},{"a":"PPO","x":971.8,"y":1908},{"a":"PPO","x":973.3,"y":2007},{"a":"PPO","x":974.8,"y":2057},{"a":"PPO","x":976.4,"y":2107},{"a":"PPO","x":977.9,"y":2157},{"a":"PPO","x":979.4,"y":2256},{"a":"PPO","x":980.9,"y":2281},{"a":"PPO","x":982.4,"y":2231},{"a":"PPO","x":983.9,"y":2132},{"a":"PPO","x":985.5,"y":2007},{"a":"PPO","x":987,"y":1908},{"a":"PPO","x":988.5,"y":1858},{"a":"PPO","x":990,"y":1808},{"a":"PPO","x":991.5,"y":1709},{"a":"PPO","x":992.4,"y":1560},{"a":"PPO","x":993.6,"y":1759},{"a":"PPO","x":995.2,"y":1858},{"a":"PPO","x":996.7,"y":2007},{"a":"PPO","x":997.9,"y":2256},{"a":"PPO","x":999.1,"y":2505},{"a":"PPO","x":1000,"y":2679},
{"a":"REDQ","x":0.6,"y":25},{"a":"REDQ","x":10,"y":25},{"a":"REDQ","x":20,"y":25},{"a":"REDQ","x":30,"y":25},{"a":"REDQ","x":40,"y":25},{"a":"REDQ","x":49.1,"y":25},{"a":"REDQ","x":52.1,"y":92},{"a":"REDQ","x":55.1,"y":266},{"a":"REDQ","x":58.2,"y":415},{"a":"REDQ","x":61.2,"y":465},{"a":"REDQ","x":64.2,"y":502},{"a":"REDQ","x":67.3,"y":540},{"a":"REDQ","x":70.3,"y":590},{"a":"REDQ","x":73.3,"y":639},{"a":"REDQ","x":76.4,"y":677},{"a":"REDQ","x":79.4,"y":714},{"a":"REDQ","x":82.4,"y":714},{"a":"REDQ","x":85.4,"y":709},{"a":"REDQ","x":88.5,"y":701},{"a":"REDQ","x":91.5,"y":694},{"a":"REDQ","x":94.5,"y":694},{"a":"REDQ","x":97.6,"y":764},{"a":"REDQ","x":100.6,"y":938},{"a":"REDQ","x":103.6,"y":1112},{"a":"REDQ","x":106.7,"y":1261},{"a":"REDQ","x":109.7,"y":1510},{"a":"REDQ","x":112.7,"y":1634},{"a":"REDQ","x":115.7,"y":1759},{"a":"REDQ","x":118.8,"y":1958},{"a":"REDQ","x":121.8,"y":2057},{"a":"REDQ","x":124.8,"y":2182},{"a":"REDQ","x":127.9,"y":2306},{"a":"REDQ","x":130.9,"y":2430},{"a":"REDQ","x":133.9,"y":2530},{"a":"REDQ","x":137,"y":2605},{"a":"REDQ","x":140,"y":2679},{"a":"REDQ","x":143,"y":2729},{"a":"REDQ","x":146,"y":2779},{"a":"REDQ","x":149.1,"y":2816},{"a":"REDQ","x":152.1,"y":2853},{"a":"REDQ","x":158.2,"y":2903},{"a":"REDQ","x":164.2,"y":2940},{"a":"REDQ","x":170.3,"y":2973},{"a":"REDQ","x":176.3,"y":2997},{"a":"REDQ","x":180.9,"y":3007},{"a":"REDQ","x":183.9,"y":2995},{"a":"REDQ","x":188.5,"y":2965},{"a":"REDQ","x":193,"y":2940},{"a":"REDQ","x":197.6,"y":2965},{"a":"REDQ","x":203.6,"y":2990},{"a":"REDQ","x":209.7,"y":3027},{"a":"REDQ","x":215.7,"y":3052},
{"a":"REDQ","x":221.2,"y":3077},{"a":"REDQ","x":227.3,"y":3090},{"a":"REDQ","x":233.4,"y":3097},{"a":"REDQ","x":239.4,"y":3097},{"a":"REDQ","x":245.5,"y":3102},{"a":"REDQ","x":251.5,"y":3107},{"a":"REDQ","x":257.6,"y":3112},{"a":"REDQ","x":263.7,"y":3115},{"a":"REDQ","x":269.7,"y":3117},{"a":"REDQ","x":275.8,"y":3120},{"a":"REDQ","x":281.8,"y":3122},{"a":"REDQ","x":287.9,"y":3127},{"a":"REDQ","x":293.9,"y":3132},{"a":"REDQ","x":300,"y":3137},{"a":"REDQ","x":306.1,"y":3139},{"a":"REDQ","x":312.1,"y":3137},{"a":"REDQ","x":318.2,"y":3139},{"a":"REDQ","x":324.2,"y":3152},{"a":"REDQ","x":330.3,"y":3157},{"a":"REDQ","x":336.4,"y":3162},{"a":"REDQ","x":342.4,"y":3172},{"a":"REDQ","x":348.5,"y":3177},{"a":"REDQ","x":354.5,"y":3182},{"a":"REDQ","x":360.6,"y":3187},{"a":"REDQ","x":366.7,"y":3189},{"a":"REDQ","x":372.7,"y":3192},{"a":"REDQ","x":378.8,"y":3197},{"a":"REDQ","x":383.3,"y":3201},{"a":"REDQ","x":386.4,"y":3177},{"a":"REDQ","x":389.4,"y":3102},{"a":"REDQ","x":392.4,"y":3027},{"a":"REDQ","x":395.5,"y":2997},{"a":"REDQ","x":398.5,"y":3003},{"a":"REDQ","x":401.5,"y":3027},{"a":"REDQ","x":404.5,"y":3065},{"a":"REDQ","x":407.6,"y":3090},{"a":"REDQ","x":410.6,"y":3115},{"a":"REDQ","x":415.2,"y":3139},{"a":"REDQ","x":421.2,"y":3157},{"a":"REDQ","x":425.8,"y":3157},{"a":"REDQ","x":427.3,"y":3139},{"a":"REDQ","x":430.3,"y":3077},{"a":"REDQ","x":433.3,"y":3015},{"a":"REDQ","x":436.4,"y":2997},{"a":"REDQ","x":439.4,"y":3003},{"a":"REDQ","x":442.4,"y":3015},{"a":"REDQ","x":445.5,"y":3052},{"a":"REDQ","x":448.5,"y":3077},{"a":"REDQ","x":451.5,"y":3102},{"a":"REDQ","x":454.5,"y":3115},{"a":"REDQ","x":457.6,"y":3127},{"a":"REDQ","x":460.6,"y":3139},{"a":"REDQ","x":463.6,"y":3147},{"a":"REDQ","x":466.7,"y":3147},{"a":"REDQ","x":469.7,"y":3139},{"a":"REDQ","x":472.7,"y":3102},{"a":"REDQ","x":475.8,"y":3052},{"a":"REDQ","x":478.8,"y":3015},{"a":"REDQ","x":481.8,"y":2990},{"a":"REDQ","x":486,"y":2965},{"a":"REDQ","x":490,"y":2935},
{"a":"REDQ","x":495.5,"y":2978},{"a":"REDQ","x":498.5,"y":3015},{"a":"REDQ","x":501.5,"y":3040},{"a":"REDQ","x":504.5,"y":3065},{"a":"REDQ","x":507.6,"y":3090},{"a":"REDQ","x":510.6,"y":3115},{"a":"REDQ","x":513.6,"y":3127},{"a":"REDQ","x":516.7,"y":3139},{"a":"REDQ","x":519.7,"y":3152},{"a":"REDQ","x":521.2,"y":3157},{"a":"REDQ","x":522.7,"y":3127},{"a":"REDQ","x":525.8,"y":3027},{"a":"REDQ","x":528.8,"y":2903},{"a":"REDQ","x":531.8,"y":2828},{"a":"REDQ","x":534.9,"y":2804},{"a":"REDQ","x":537.9,"y":2791},{"a":"REDQ","x":542.4,"y":2774},{"a":"REDQ","x":545.5,"y":2791},{"a":"REDQ","x":548.5,"y":2816},{"a":"REDQ","x":551.5,"y":2833},{"a":"REDQ","x":554.5,"y":2823},{"a":"REDQ","x":557.6,"y":2809},{"a":"REDQ","x":560.6,"y":2796},{"a":"REDQ","x":563.6,"y":2786},{"a":"REDQ","x":566.7,"y":2804},{"a":"REDQ","x":569.7,"y":2828},{"a":"REDQ","x":572.7,"y":2878},{"a":"REDQ","x":575.8,"y":2940},{"a":"REDQ","x":578.8,"y":2978},{"a":"REDQ","x":581.8,"y":3003},{"a":"REDQ","x":584.8,"y":3027},{"a":"REDQ","x":587.9,"y":3052},{"a":"REDQ","x":590.9,"y":3077},{"a":"REDQ","x":593.9,"y":3102},{"a":"REDQ","x":597,"y":3077},{"a":"REDQ","x":600,"y":3027},{"a":"REDQ","x":603,"y":2978},{"a":"REDQ","x":606.1,"y":2928},{"a":"REDQ","x":609.1,"y":2853},{"a":"REDQ","x":612.1,"y":2804},{"a":"REDQ","x":615.2,"y":2741},{"a":"REDQ","x":618.2,"y":2679},{"a":"REDQ","x":621.2,"y":2629},{"a":"REDQ","x":624.2,"y":2555},{"a":"REDQ","x":625.8,"y":2455},{"a":"REDQ","x":627.3,"y":2306},{"a":"REDQ","x":628.8,"y":2157},{"a":"REDQ","x":630.3,"y":2007},{"a":"REDQ","x":631.8,"y":1883},{"a":"REDQ","x":633.3,"y":1784},{"a":"REDQ","x":634.8,"y":1746},{"a":"REDQ","x":637.9,"y":1759},{"a":"REDQ","x":640.9,"y":1784},{"a":"REDQ","x":643.9,"y":1808},{"a":"REDQ","x":647,"y":1833},{"a":"REDQ","x":650,"y":1858},{"a":"REDQ","x":653,"y":1871},{"a":"REDQ","x":656.1,"y":1863},{"a":"REDQ","x":659.1,"y":1784},{"a":"REDQ","x":662.1,"y":1709},{"a":"REDQ","x":665.2,"y":1634},{"a":"REDQ","x":668.2,"y":1585},{"a":"REDQ","x":671.2,"y":1535},{"a":"REDQ","x":674.2,"y":1485},{"a":"REDQ","x":677.3,"y":1435},{"a":"REDQ","x":680.3,"y":1386},{"a":"REDQ","x":683.3,"y":1348},{"a":"REDQ","x":686.4,"y":1341},{"a":"REDQ","x":689.4,"y":1336},{"a":"REDQ","x":692.4,"y":1331},{"a":"REDQ","x":695.5,"y":1323},{"a":"REDQ","x":698.5,"y":1299},{"a":"REDQ","x":701.5,"y":1286},{"a":"REDQ","x":704.5,"y":1279},{"a":"REDQ","x":707.6,"y":1274},{"a":"REDQ","x":710.6,"y":1269},{"a":"REDQ","x":713.6,"y":1269},{"a":"REDQ","x":716.7,"y":1266},{"a":"REDQ","x":719.7,"y":1261},{"a":"REDQ","x":722.7,"y":1249},{"a":"REDQ","x":725.8,"y":1236},{"a":"REDQ","x":728.8,"y":1231},{"a":"REDQ","x":731.8,"y":1231},{"a":"REDQ","x":734.8,"y":1231},{"a":"REDQ","x":737.9,"y":1236},{"a":"REDQ","x":740.9,"y":1162},{"a":"REDQ","x":743.9,"y":1112},{"a":"REDQ","x":747,"y":1087},
{"a":"REDQ","x":758.2,"y":1107},{"a":"REDQ","x":767.3,"y":938},{"a":"REDQ","x":777.9,"y":1062},{"a":"REDQ","x":787,"y":1137},{"a":"REDQ","x":799.1,"y":1187},{"a":"REDQ","x":808.2,"y":1211},{"a":"REDQ","x":826.4,"y":1236},{"a":"REDQ","x":838.5,"y":1224},{"a":"REDQ","x":850.6,"y":1211},{"a":"REDQ","x":862.7,"y":1206},{"a":"REDQ","x":874.8,"y":1216},{"a":"REDQ","x":890,"y":1187},{"a":"REDQ","x":899.1,"y":1236},{"a":"REDQ","x":911.2,"y":1261},{"a":"REDQ","x":920.3,"y":1299},{"a":"REDQ","x":929.4,"y":1306},{"a":"REDQ","x":938.5,"y":1274},{"a":"REDQ","x":941.5,"y":1211},{"a":"REDQ","x":944.5,"y":1062},{"a":"REDQ","x":947.6,"y":888},{"a":"REDQ","x":952.1,"y":789},{"a":"REDQ","x":959.7,"y":888},{"a":"REDQ","x":968.8,"y":988},{"a":"REDQ","x":977.9,"y":1075},{"a":"REDQ","x":987,"y":1137},{"a":"REDQ","x":992.4,"y":1157}
]},
"layer":[
 {"mark":{"type":"line","strokeWidth":2,"strokeCap":"butt"},
  "encoding":{
   "x":{"field":"x","type":"quantitative","scale":{"domain":[-48.5,1049],"nice":false,"zero":false},"axis":{"title":"Эпизод","values":[0,200,400,600,800,1000],"labelExpr":"format(datum.value/1000,'.1f')","labelPadding":13,"titlePadding":6}},
   "y":{"field":"y","type":"quantitative","scale":{"domain":[-149,3745],"nice":false,"zero":false},"axis":{"title":"Награда","values":[0,500,1000,1500,2000,2500,3000,3500],"format":"d","labelPadding":14,"titlePadding":6}},
   "color":{"field":"a","type":"nominal","scale":{"domain":["SAC","PPO","REDQ"],"range":["#ff0000","#0000ff","#008000"]},"legend":{"title":"Алгоритм"}},
   "strokeDash":{"field":"a","type":"nominal","scale":{"domain":["SAC","PPO","REDQ"],"range":[[1,0],[7.4,3.2],[2,3.3]]},"legend":{"title":"Алгоритм"}}
  }},
 {"data":{"values":[{"t":"1e6"}]},
  "mark":{"type":"text","align":"right","baseline":"top","dx":4,"dy":38,"font":"Liberation Sans","fontSize":16,"color":"#262626"},
  "encoding":{"x":{"datum":1049,"type":"quantitative"},"y":{"datum":-149,"type":"quantitative"},"text":{"field":"t","type":"nominal"}}}
]
}
